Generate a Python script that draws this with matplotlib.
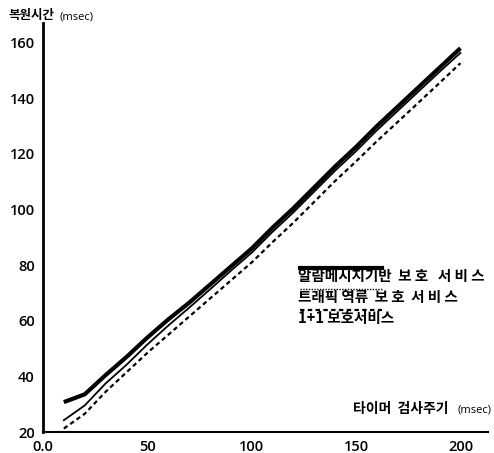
import matplotlib
matplotlib.use("Agg")
import matplotlib.pyplot as plt

plt.rcParams['font.family'] = ['Noto Sans CJK KR', 'DejaVu Sans']

x = [10, 20, 30, 40, 50, 60, 70, 80, 90, 100, 110, 120, 130, 140, 150, 160, 170, 180, 190, 200]
alarm = [30.8, 33.6, 40.5, 47.0, 54.0, 60.5, 66.5, 73.0, 79.5, 86.0, 93.5, 100.5, 108.0, 115.5, 122.5, 130.0, 137.0, 144.0, 151.0, 158.0]
traffic = [24.3, 29.6, 37.5, 44.2, 51.5, 58.3, 64.7, 71.3, 78.0, 84.5, 92.0, 99.0, 106.5, 114.0, 121.0, 128.5, 135.5, 142.5, 149.5, 156.3]
one_plus_one = [21.3, 26.6, 34.5, 41.5, 48.5, 55.0, 61.5, 68.0, 74.5, 81.0, 88.3, 95.3, 102.8, 110.3, 117.3, 124.6, 131.5, 138.5, 145.5, 152.6]

legend_labels = ["알람메시지기반  보 호   서 비 스", "트래픽 역류  보 호  서 비 스", "1+1 보호서비스"]
xticks = [0, 50, 100, 150, 200]
xticklabels = ["0.0", "50", "100", "150", "200"]
yticks = [20, 40, 60, 80, 100, 120, 140, 160]

fig = plt.figure(figsize=(4.94, 4.53), dpi=100)
ax = fig.add_axes([0.087, 0.046, 0.90, 0.903])

ax.plot(x, alarm, color='black', lw=3.0, solid_capstyle='butt')
ax.plot(x, traffic, color='black', lw=1.3)
ax.plot(x, one_plus_one, color='black', lw=1.6, ls=(0, (2, 1.5)))

ax.set_xlim(0, 213)
ax.set_ylim(20, 167)
ax.set_xticks(xticks)
ax.set_xticklabels(xticklabels)
ax.set_yticks(yticks)
ax.tick_params(length=0, labelsize=10.5, pad=6)
for lab in ax.get_xticklabels() + ax.get_yticklabels():
    lab.set_family(['Open Sans', 'DejaVu Sans'])
    lab.set_fontweight('semibold')
ax.spines['top'].set_visible(False)
ax.spines['right'].set_visible(False)
ax.spines['left'].set_linewidth(2.0)
ax.spines['bottom'].set_linewidth(1.5)

fig.text(8 / 494, 1 - 16 / 453, "복원시간", ha='left', va='center', fontsize=9, fontweight='bold')
fig.text(59 / 494, 1 - 17 / 453, "(msec)", ha='left', va='center', fontsize=8,
         family=['Open Sans', 'DejaVu Sans'])
fig.text(448 / 494, 1 - 409 / 453, "타이머  검사주기", ha='right', va='center', fontsize=10, fontweight='bold')
fig.text(491 / 494, 1 - 410 / 453, "(msec)", ha='right', va='center', fontsize=8,
         family=['Open Sans', 'DejaVu Sans'])

# legend: text with line sample drawn over top of the text
styles = [dict(lw=3.0, ls='-'), dict(lw=1.0, ls=(0, (1, 1))), dict(lw=1.6, ls=(0, (2, 1.5)))]
text_y = [276, 297, 318]
for lab, st, ty in zip(legend_labels, styles, text_y):
    fig.text(298 / 494, 1 - ty / 453, lab, ha='left', va='center', fontsize=10.5, fontweight='bold')
    fig.add_artist(plt.Line2D([300 / 494, 382 / 494], [1 - (ty - 8) / 453, 1 - (ty - 8) / 453],
                              color='black', transform=fig.transFigure, **st))

fig.savefig("out.png", dpi=100)
